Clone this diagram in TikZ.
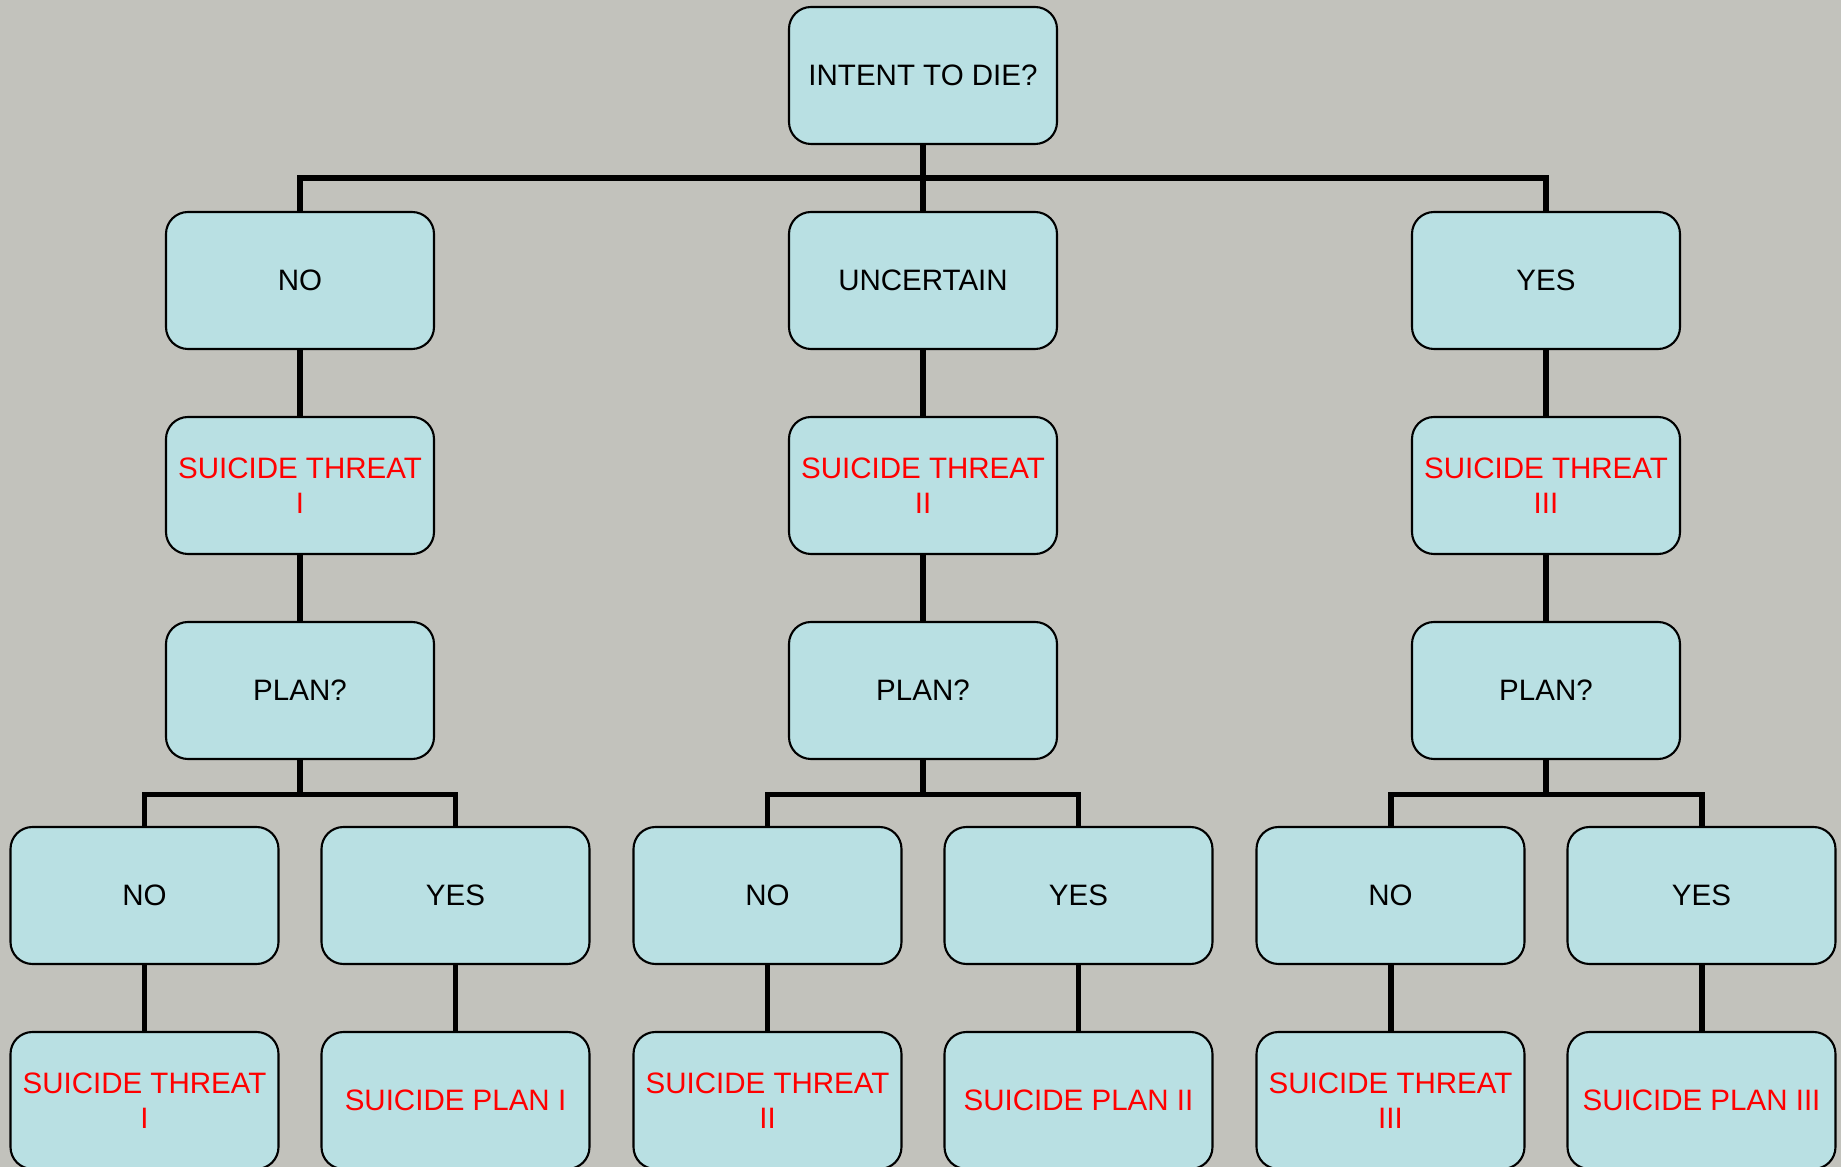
\documentclass[tikz,border=0pt]{standalone}
\usepackage{xcolor}
\usepackage{fontspec}
\setmainfont{Liberation Sans}
\usepackage{tikz}
\usetikzlibrary{positioning}

\definecolor{bggray}{HTML}{C2C2BC}
\definecolor{boxcyan}{HTML}{B9E0E3}

\begin{document}
\begin{tikzpicture}[
    node distance=0.68cm,
    box/.style={rectangle, draw, line width=0.6pt, rounded corners=2.2mm, fill=boxcyan,
                minimum width=2.68cm, minimum height=1.37cm, inner sep=0pt, outer sep=0pt,
                align=center, font=\fontsize{8.4}{10}\selectfont},
    question/.style={box, text=black},
    outcome/.style={box, text=red},
    link/.style={line width=1.7pt}
]

% Background
\useasboundingbox (0,0) rectangle (18.41,-11.67);
\fill[bggray] (0,0) rectangle (18.41,-11.67);

% Root node
\node[question] (root) at (9.23,-0.755) {INTENT TO DIE?};

% Answers to the first question
\node[question, below left=0.68cm and 3.55cm of root] (no) {NO};
\node[question, below=of root] (unc) {UNCERTAIN};
\node[question, below right=0.68cm and 3.55cm of root] (yes) {YES};

% Threat levels
\node[outcome, below=of no] (threata) {SUICIDE THREAT\\I};
\node[outcome, below=of unc] (threatb) {SUICIDE THREAT\\II};
\node[outcome, below=of yes] (threatc) {SUICIDE THREAT\\III};

% Plan questions
\node[question, below=of threata] (plana) {PLAN?};
\node[question, below=of threatb] (planb) {PLAN?};
\node[question, below=of threatc] (planc) {PLAN?};

% Answers to the plan questions
\node[question, below=of plana, xshift=-1.555cm] (planano) {NO};
\node[question, below=of plana, xshift=1.555cm] (planayes) {YES};
\node[question, below=of planb, xshift=-1.555cm] (planbno) {NO};
\node[question, below=of planb, xshift=1.555cm] (planbyes) {YES};
\node[question, below=of planc, xshift=-1.555cm] (plancno) {NO};
\node[question, below=of planc, xshift=1.555cm] (plancyes) {YES};

% Final outcomes
\node[outcome, below=of planano] (enda) {SUICIDE THREAT\\I};
\node[outcome, below=of planayes] (endb) {SUICIDE PLAN I};
\node[outcome, below=of planbno] (endc) {SUICIDE THREAT\\II};
\node[outcome, below=of planbyes] (endd) {SUICIDE PLAN II};
\node[outcome, below=of plancno] (ende) {SUICIDE THREAT\\III};
\node[outcome, below=of plancyes] (endf) {SUICIDE PLAN III};

% Edges
\draw[link] (root) -- (unc);
\draw[link] (root.south) -- ++(0,-0.34) -| (no.north);
\draw[link] (root.south) -- ++(0,-0.34) -| (yes.north);

\draw[link] (no) -- (threata);
\draw[link] (unc) -- (threatb);
\draw[link] (yes) -- (threatc);
\draw[link] (threata) -- (plana);
\draw[link] (threatb) -- (planb);
\draw[link] (threatc) -- (planc);

\draw[link] (plana.south) -- ++(0,-0.355) -| (planano.north);
\draw[link] (plana.south) -- ++(0,-0.355) -| (planayes.north);
\draw[link] (planb.south) -- ++(0,-0.355) -| (planbno.north);
\draw[link] (planb.south) -- ++(0,-0.355) -| (planbyes.north);
\draw[link] (planc.south) -- ++(0,-0.355) -| (plancno.north);
\draw[link] (planc.south) -- ++(0,-0.355) -| (plancyes.north);

\draw[link] (planano) -- (enda);
\draw[link] (planayes) -- (endb);
\draw[link] (planbno) -- (endc);
\draw[link] (planbyes) -- (endd);
\draw[link] (plancno) -- (ende);
\draw[link] (plancyes) -- (endf);

\end{tikzpicture}
\end{document}
